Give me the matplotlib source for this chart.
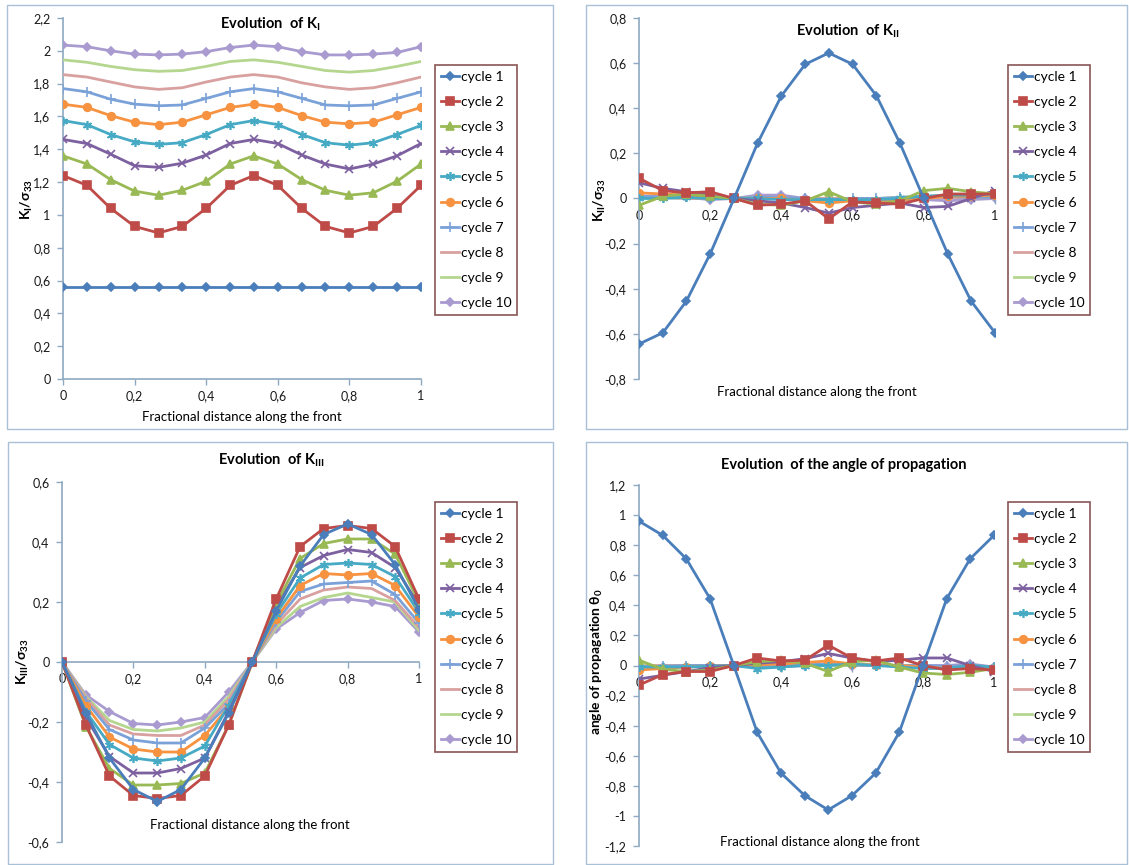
import matplotlib
matplotlib.use('Agg')
import matplotlib.pyplot as plt
from matplotlib.patches import Rectangle
from matplotlib.ticker import FuncFormatter, MultipleLocator

plt.rcParams['font.family'] = ['Lato', 'DejaVu Sans']

# fractional distance along the front (16 nodes)
x_pos = [0, 0.067, 0.133, 0.2, 0.267, 0.333, 0.4, 0.467, 0.533, 0.6, 0.667, 0.733, 0.8, 0.867, 0.933, 1]
cycles = ['cycle 1', 'cycle 2', 'cycle 3', 'cycle 4', 'cycle 5',
          'cycle 6', 'cycle 7', 'cycle 8', 'cycle 9', 'cycle 10']

ki_values = [
    [0.56, 0.56, 0.56, 0.56, 0.56, 0.56, 0.56, 0.56, 0.56, 0.56, 0.56, 0.56, 0.56, 0.56, 0.56, 0.56],
    [1.24, 1.18, 1.04, 0.93, 0.89, 0.93, 1.04, 1.18, 1.24, 1.18, 1.04, 0.93, 0.89, 0.93, 1.04, 1.18],
    [1.36, 1.31, 1.215, 1.145, 1.12, 1.15, 1.205, 1.31, 1.36, 1.31, 1.215, 1.15, 1.12, 1.135, 1.205, 1.31],
    [1.46, 1.435, 1.37, 1.30, 1.29, 1.315, 1.365, 1.435, 1.46, 1.435, 1.365, 1.31, 1.28, 1.31, 1.36, 1.435],
    [1.575, 1.55, 1.49, 1.445, 1.43, 1.44, 1.49, 1.55, 1.575, 1.55, 1.49, 1.44, 1.425, 1.44, 1.49, 1.545],
    [1.675, 1.655, 1.605, 1.565, 1.55, 1.565, 1.61, 1.655, 1.675, 1.655, 1.605, 1.565, 1.555, 1.565, 1.61, 1.655],
    [1.77, 1.75, 1.705, 1.675, 1.665, 1.67, 1.71, 1.75, 1.77, 1.75, 1.71, 1.67, 1.665, 1.67, 1.71, 1.75],
    [1.855, 1.84, 1.81, 1.78, 1.765, 1.775, 1.81, 1.84, 1.855, 1.84, 1.805, 1.78, 1.765, 1.775, 1.805, 1.84],
    [1.945, 1.93, 1.905, 1.885, 1.875, 1.88, 1.905, 1.935, 1.945, 1.93, 1.905, 1.88, 1.87, 1.88, 1.905, 1.935],
    [2.035, 2.025, 2.0, 1.98, 1.975, 1.98, 1.995, 2.02, 2.035, 2.025, 1.995, 1.975, 1.975, 1.98, 1.99, 2.025],
]

kii_values = [
    [-0.645, -0.595, -0.455, -0.245, 0.0, 0.245, 0.455, 0.595, 0.645, 0.595, 0.455, 0.245, 0.0, -0.245, -0.455, -0.595],
    [0.09, 0.035, 0.025, 0.03, 0.0, -0.03, -0.025, -0.01, -0.09, -0.015, -0.02, -0.025, 0.0, 0.02, 0.02, 0.02],
    [-0.03, 0.01, 0.02, 0.01, 0.0, -0.025, -0.03, -0.01, 0.03, -0.015, -0.025, -0.01, 0.035, 0.045, 0.03, 0.02],
    [0.07, 0.045, 0.03, 0.015, 0.0, -0.01, -0.02, -0.04, -0.065, -0.04, -0.03, -0.02, -0.04, -0.035, 0.0, 0.035],
    [0.0, 0.0, 0.005, 0.0, 0.0, 0.0, -0.005, -0.005, -0.005, -0.005, -0.005, 0.0, 0.01, 0.015, 0.015, 0.02],
    [0.025, 0.02, 0.015, 0.01, 0.0, 0.0, 0.0, -0.01, -0.02, -0.01, -0.01, -0.005, 0.0, 0.01, 0.01, 0.015],
    [0.01, 0.005, 0.005, 0.0, 0.0, 0.005, 0.005, 0.0, -0.005, 0.0, 0.0, 0.005, 0.01, 0.01, 0.005, 0.005],
    [0.005, 0.005, 0.0, 0.0, 0.0, 0.0, 0.0, 0.0, 0.0, 0.0, 0.0, 0.0, 0.0, 0.005, 0.005, 0.005],
    [0.005, 0.005, 0.0, 0.0, 0.0, 0.005, 0.0, 0.0, 0.0, 0.0, 0.0, 0.005, 0.01, 0.01, 0.005, 0.005],
    [0.01, 0.01, 0.005, -0.005, 0.0, 0.015, 0.015, 0.0, -0.005, -0.01, -0.01, -0.005, -0.005, -0.01, -0.005, 0.0],
]

kiii_values = [
    [0.0, -0.17, -0.32, -0.425, -0.465, -0.425, -0.32, -0.17, 0.0, 0.17, 0.32, 0.425, 0.46, 0.425, 0.325, 0.175],
    [0.0, -0.21, -0.38, -0.445, -0.455, -0.445, -0.38, -0.21, 0.0, 0.21, 0.385, 0.445, 0.455, 0.445, 0.385, 0.21],
    [0.0, -0.215, -0.355, -0.41, -0.41, -0.405, -0.37, -0.21, 0.0, 0.195, 0.345, 0.395, 0.41, 0.41, 0.36, 0.2],
    [0.0, -0.185, -0.315, -0.37, -0.37, -0.355, -0.32, -0.165, 0.0, 0.185, 0.315, 0.355, 0.375, 0.365, 0.315, 0.19],
    [0.0, -0.165, -0.275, -0.32, -0.33, -0.32, -0.28, -0.145, 0.0, 0.16, 0.28, 0.325, 0.33, 0.325, 0.285, 0.165],
    [0.0, -0.145, -0.25, -0.29, -0.3, -0.3, -0.245, -0.15, 0.0, 0.145, 0.255, 0.295, 0.29, 0.295, 0.255, 0.15],
    [0.0, -0.13, -0.225, -0.26, -0.27, -0.27, -0.22, -0.14, 0.0, 0.135, 0.235, 0.26, 0.265, 0.27, 0.225, 0.13],
    [0.0, -0.12, -0.21, -0.24, -0.245, -0.245, -0.21, -0.125, 0.0, 0.125, 0.21, 0.24, 0.25, 0.245, 0.205, 0.115],
    [0.0, -0.115, -0.195, -0.225, -0.23, -0.22, -0.2, -0.115, 0.0, 0.115, 0.185, 0.215, 0.23, 0.215, 0.2, 0.105],
    [0.0, -0.11, -0.165, -0.205, -0.21, -0.2, -0.185, -0.1, 0.0, 0.11, 0.165, 0.205, 0.21, 0.2, 0.185, 0.1],
]

angle_values = [
    [0.96, 0.865, 0.71, 0.445, 0.0, -0.445, -0.715, -0.865, -0.96, -0.865, -0.715, -0.445, 0.0, 0.445, 0.71, 0.865],
    [-0.13, -0.06, -0.04, -0.04, 0.0, 0.05, 0.03, 0.035, 0.135, 0.05, 0.03, 0.05, 0.0, -0.03, -0.02, -0.03],
    [0.035, -0.025, -0.04, -0.03, 0.0, 0.025, 0.035, 0.015, -0.04, 0.025, 0.035, -0.01, -0.05, -0.06, -0.045, -0.02],
    [-0.09, -0.065, -0.04, -0.015, 0.0, 0.015, 0.025, 0.045, 0.08, 0.05, 0.025, 0.035, 0.05, 0.05, 0.0, -0.04],
    [-0.01, -0.01, -0.01, -0.005, 0.0, -0.02, -0.01, 0.0, 0.0, 0.01, 0.0, -0.01, -0.02, -0.02, 0.0, -0.01],
    [-0.03, -0.02, -0.01, -0.005, 0.0, 0.005, 0.01, 0.02, 0.03, 0.01, 0.005, 0.0, -0.01, -0.02, -0.015, -0.02],
    [-0.01, -0.005, 0.0, 0.0, 0.0, 0.0, 0.0, 0.005, 0.01, 0.005, 0.0, 0.0, 0.0, -0.005, 0.0, -0.01],
    [-0.005, 0.0, 0.0, 0.0, 0.0, 0.005, 0.005, 0.005, 0.01, 0.005, 0.0, 0.0, -0.005, -0.01, -0.005, -0.01],
    [0.0, 0.0, 0.0, 0.0, 0.0, 0.0, 0.0, 0.0, 0.0, 0.0, 0.005, 0.0, -0.01, -0.01, -0.005, -0.01],
    [-0.01, -0.01, -0.01, 0.0, 0.0, -0.01, -0.01, 0.0, 0.0, 0.0, 0.0, 0.0, 0.0, 0.0, 0.01, -0.01],
]

colors = ['#4A7EBB', '#BE4B48', '#98B954', '#7D60A0', '#46AAC5',
          '#F69240', '#7BA2D8', '#D9A0A0', '#B5D68E', '#A99BD0']
markers = ['D', 's', '^', 'x', (6, 2, 0), 'o', '+', None, None, 'D']
msizes = [4, 5.5, 5.5, 5.5, 6.5, 5.5, 7, 0, 0, 4.5]

W, H = 1129, 865
fig = plt.figure(figsize=(W / 100, H / 100), dpi=100)
axis_col = '#8EA9C1'


def px_rect(x0, x1, ytop, ybot):
    return [x0 / W, 1 - ybot / H, (x1 - x0) / W, (ybot - ytop) / H]


# chart-area frames
for (x0, x1, y0, y1) in [(7, 553, 5, 429), (586, 1127, 5, 429), (8, 553, 442, 864), (586, 1127, 442, 864)]:
    fig.patches.append(Rectangle((x0 / W, 1 - y1 / H), (x1 - x0) / W, (y1 - y0) / H,
                                 transform=fig.transFigure, fill=False, ec='#A9C1D6', lw=1.0))

comma = FuncFormatter(lambda v, p: f'{round(v, 2):g}'.replace('.', ','))

panels = [
    dict(vals=ki_values, rect=(63, 421, 18, 379), ylim=(0, 2.2), zero=False,
         title=r'Evolution  of K$_\mathregular{I}$', tpos=(270, 24),
         ylab=r'K$_\mathregular{I}$/σ$_\mathregular{33}$', ypos=(27, 200),
         xpos=(242, 417), leg=(435, 65)),
    dict(vals=kii_values, rect=(639, 995, 18, 379), ylim=(-0.8, 0.8), zero=True,
         title=r'Evolution  of K$_\mathregular{II}$', tpos=(848, 31),
         ylab=r'K$_\mathregular{II}$/σ$_\mathregular{33}$', ypos=(600, 200),
         xpos=(817, 392), leg=(1008, 65)),
    dict(vals=kiii_values, rect=(62, 419, 482, 842), ylim=(-0.6, 0.6), zero=True,
         title=r'Evolution  of K$_\mathregular{III}$', tpos=(272, 460),
         ylab=r'K$_\mathregular{III}$/σ$_\mathregular{33}$', ypos=(23, 662),
         xpos=(250, 825), leg=(435, 502)),
    dict(vals=angle_values, rect=(639, 994, 485, 846), ylim=(-1.2, 1.2), zero=True,
         title='Evolution  of the angle of propagation', tpos=(844, 465),
         ylab=r'angle of propagation θ$_\mathregular{0}$', ypos=(597, 662),
         xpos=(820, 842), leg=(1008, 502)),
]

for pn in panels:
    ax = fig.add_axes(px_rect(*pn['rect']))
    for i, yv in enumerate(pn['vals']):
        ax.plot(x_pos, yv, color=colors[i], lw=2, marker=markers[i], ms=msizes[i],
                mew=1.2, label=cycles[i], zorder=3 + (10 - i) * 0.01)
    ax.set_xlim(0, 1)
    ax.set_ylim(*pn['ylim'])
    ax.xaxis.set_major_locator(MultipleLocator(0.2))
    ax.yaxis.set_major_locator(MultipleLocator(0.2))
    ax.xaxis.set_major_formatter(comma)
    ax.yaxis.set_major_formatter(comma)
    for s in ['top', 'right']:
        ax.spines[s].set_visible(False)
    for s in ['left', 'bottom']:
        ax.spines[s].set_color(axis_col)
        ax.spines[s].set_linewidth(1.2)
    if pn['zero']:
        ax.spines['bottom'].set_position(('data', 0))
    ax.tick_params(direction='out', length=4, width=1, color=axis_col,
                   labelsize=9, labelcolor='#1a1a1a', pad=4)
    ax.tick_params(axis='y', pad=5)
    ax.patch.set_alpha(0)
    fig.text(pn['tpos'][0] / W, 1 - pn['tpos'][1] / H, pn['title'], ha='center', va='center',
             fontsize=10.5, fontweight='bold')
    fig.text(pn['ypos'][0] / W, 1 - pn['ypos'][1] / H, pn['ylab'], ha='center', va='center',
             rotation=90, fontsize=10, fontweight='bold')
    fig.text(pn['xpos'][0] / W, 1 - pn['xpos'][1] / H, 'Fractional distance along the front',
             ha='center', va='center', fontsize=9.5)
    leg = ax.legend(loc='upper left', bbox_to_anchor=(pn['leg'][0] / W, 1 - pn['leg'][1] / H),
                    bbox_transform=fig.transFigure, fontsize=10, frameon=True,
                    fancybox=False, edgecolor='#6B2A2A', borderpad=0.4, labelspacing=0.95,
                    handlelength=1.35, handletextpad=0.1, borderaxespad=0)
    leg.get_frame().set_linewidth(1.2)

fig.savefig('out.png', dpi=100)
